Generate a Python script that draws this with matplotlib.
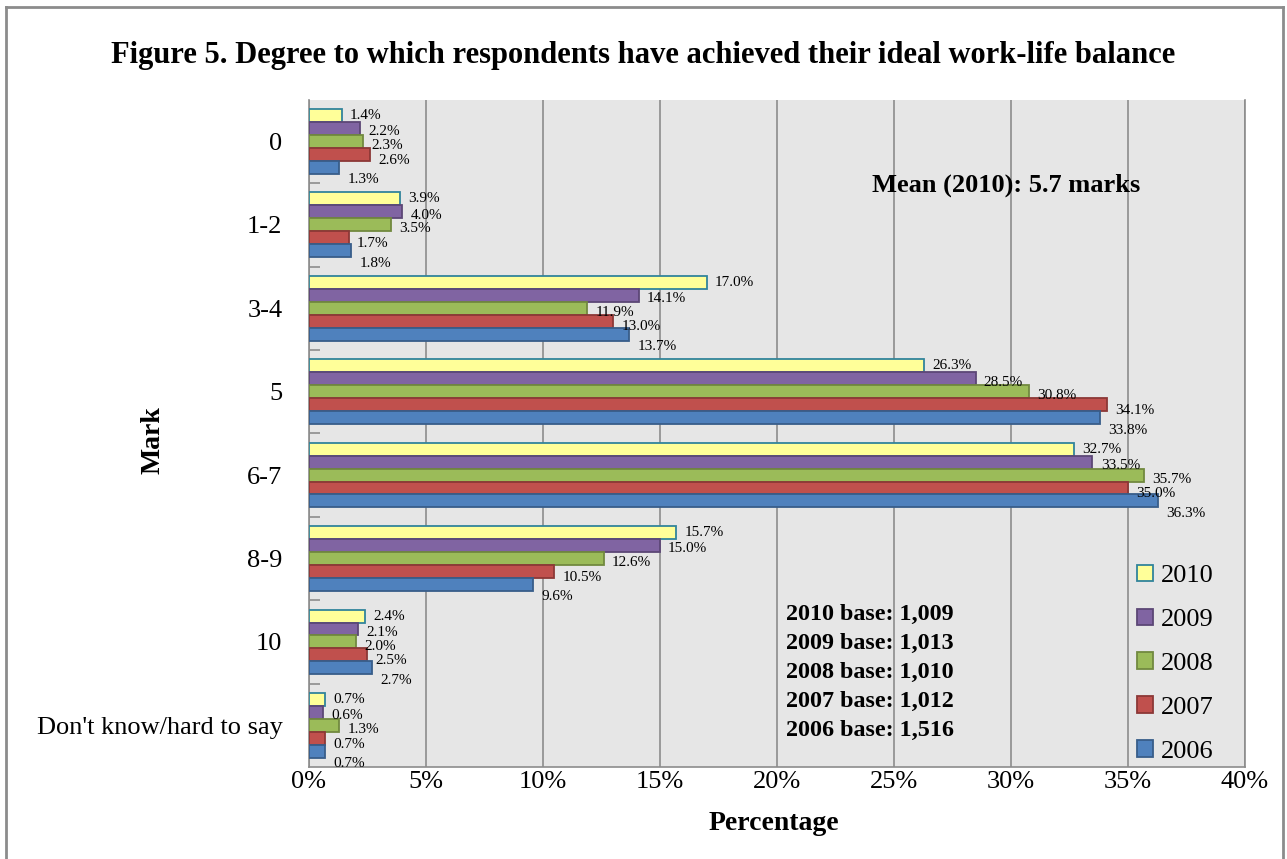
import matplotlib.pyplot as plt
from matplotlib.patches import Patch
from matplotlib.lines import Line2D

plt.rcParams['font.family'] = ['Liberation Serif', 'DejaVu Serif']

# marks and survey results (% of respondents)
marks = ["0", "1-2", "3-4", "5", "6-7", "8-9", "10", "Don't know/hard to say"]
years = ["2010", "2009", "2008", "2007", "2006"]
pct_2010 = [1.4, 3.9, 17.0, 26.3, 32.7, 15.7, 2.4, 0.7]
pct_2009 = [2.2, 4.0, 14.1, 28.5, 33.5, 15.0, 2.1, 0.6]
pct_2008 = [2.3, 3.5, 11.9, 30.8, 35.7, 12.6, 2.0, 1.3]
pct_2007 = [2.6, 1.7, 13.0, 34.1, 35.0, 10.5, 2.5, 0.7]
pct_2006 = [1.3, 1.8, 13.7, 33.8, 36.3, 9.6, 2.7, 0.7]
bases = ["2010 base: 1,009", "2009 base: 1,013", "2008 base: 1,010",
         "2007 base: 1,012", "2006 base: 1,516"]
mean_note = "Mean (2010): 5.7 marks"

series = [pct_2010, pct_2009, pct_2008, pct_2007, pct_2006]
fills = ["#ffff99", "#8064a2", "#9bbb59", "#c0504d", "#4f81bd"]
edges = ["#31849b", "#5c4776", "#71893f", "#8c3836", "#385d8a"]
# labels of the lower bars sit a little below their bar
label_drop = [0.0, 0.04, 0.05, 0.07, 0.15]

fig = plt.figure(figsize=(12.87, 8.59), dpi=100)
ax = fig.add_axes([0.240, 0.107, 0.727, 0.777])
ax.set_facecolor("#e6e6e6")

h = 0.155
for k, vals in enumerate(series):
    off = (k - 2) * h
    ys = [i + off for i in range(len(marks))]
    ax.barh(ys, vals, height=h, color=fills[k], edgecolor=edges[k],
            linewidth=1.3, zorder=3)
    for y, v in zip(ys, vals):
        ax.annotate('%.1f%%' % v, (v, y + label_drop[k]), xytext=(6, 0),
                    textcoords='offset points', ha='left', va='center',
                    fontsize=11, zorder=4)

ax.set_xlim(0, 40)
ax.set_ylim(len(marks) - 0.5, -0.5)
ax.set_xticks(range(0, 41, 5))
ax.set_xticklabels(['%d%%' % t for t in range(0, 41, 5)], fontsize=19)
ax.tick_params(axis='x', length=0, pad=3)
ax.set_yticks(range(len(marks)))
ax.set_yticklabels(marks, fontsize=19)
ax.tick_params(axis='y', which='major', length=0, pad=19)
ax.set_yticks([i + 0.5 for i in range(len(marks) - 1)], minor=True)
ax.tick_params(axis='y', which='minor', direction='in', length=8,
               color='#8c8c8c', width=1.2)
ax.grid(axis='x', color='#8c8c8c', linewidth=1.2, zorder=1)
ax.set_axisbelow(True)
ax.spines['top'].set_visible(False)
for s in ['left', 'bottom', 'right']:
    ax.spines[s].set_color('#8c8c8c')
    ax.spines[s].set_linewidth(1.2)

ax.text(29.8, 0.53, mean_note, ha='center', va='center', fontsize=19,
        fontweight='bold', zorder=5)
for j, line in enumerate(bases):
    ax.text(20.4, 5.67 + j * 0.348, line, ha='left', va='center',
            fontsize=17.4, fontweight='bold', zorder=5)

handles = [Patch(facecolor=fills[k], edgecolor=edges[k], linewidth=1.3)
           for k in range(len(years))]
ax.legend(handles, years, loc='center left', bbox_to_anchor=(0.885, 0.155),
          frameon=False, fontsize=19, handlelength=0.6, handleheight=0.6,
          handletextpad=0.3, labelspacing=0.8, borderpad=0, borderaxespad=0)

fig.text(0.5, 0.935, "Figure 5. Degree to which respondents have achieved their ideal work-life balance",
         ha='center', va='center', fontsize=22, fontweight='bold')
fig.text(0.119, 0.488, "Mark", rotation=90, ha='center', va='center',
         fontsize=20, fontweight='bold')
fig.text(0.601, 0.041, "Percentage", ha='center', va='center',
         fontsize=20, fontweight='bold')

# outer frame
for xs, ys in [((0.005, 0.005), (0.0, 0.992)), ((0.997, 0.997), (0.0, 0.992)),
               ((0.005, 0.997), (0.992, 0.992))]:
    fig.add_artist(Line2D(xs, ys, color='#8c8c8c', linewidth=2,
                          transform=fig.transFigure))

fig.savefig("out.png", dpi=100)
